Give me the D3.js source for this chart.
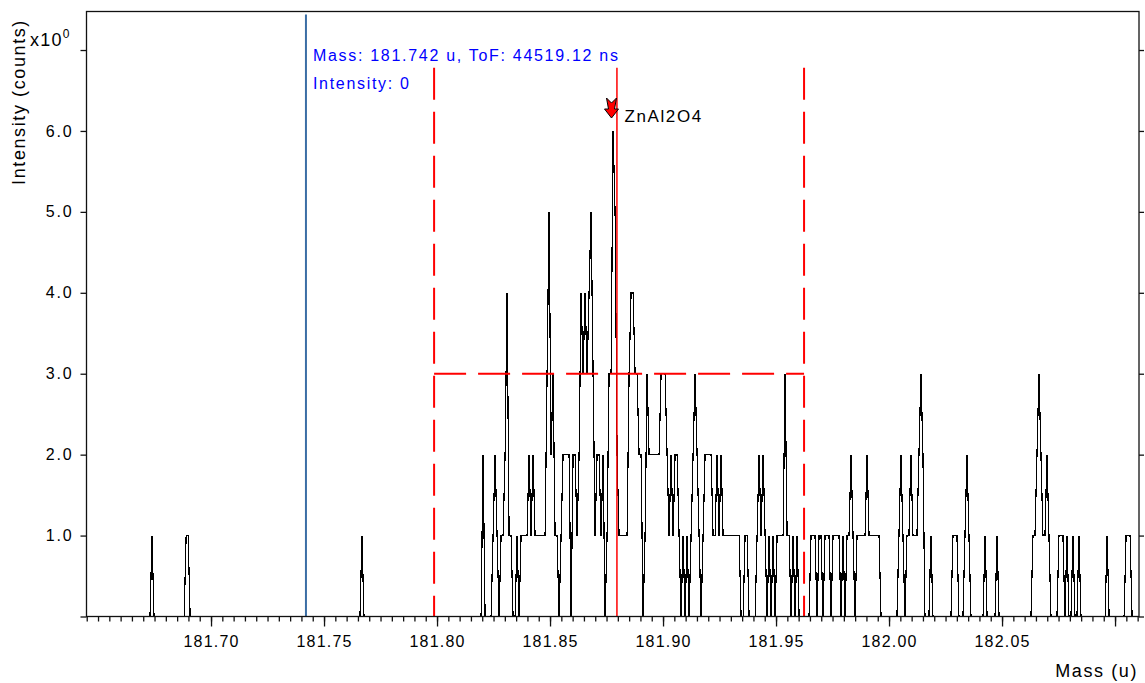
<!DOCTYPE html>
<html>
<head>
<meta charset="utf-8">
<script src="https://cdn.jsdelivr.net/npm/d3@7"></script>
<style>
body { margin: 0; background: #fff; }
svg text { font-family: "Liberation Sans", Arial, sans-serif; font-size: 16px; letter-spacing: 1.2px; }
</style>
</head>
<body>
<svg id="chart" width="1145" height="683"></svg>
<script>
// 軸の範囲
var massMin = 181.6449, massMax = 182.1106;
var countMax = 7.476;

// 目盛り
var xMajorTicks = [181.70, 181.75, 181.80, 181.85, 181.90, 181.95, 182.00, 182.05, 182.10];
var xTickLabels = ["181.70", "181.75", "181.80", "181.85", "181.90", "181.95", "182.00", "182.05", ""];
var yTicks = [0, 1, 2, 3, 4, 5, 6, 7];
var yTickLabels = ["", "1.0", "2.0", "3.0", "4.0", "5.0", "6.0", ""];

// スペクトル (区間ごとの開始質量 + カウント列, 等間隔ビン)
var binWidth = 0.000885;
var segStart = [181.6730, 181.6881, 181.7659, 181.8186, 181.9646, 182.0035,
	182.0274, 182.0416, 182.0469, 182.0628, 182.0743, 182.0805, 182.0956, 182.1040];
var segCounts = [
	[0, 1, 0],
	[0, 1, 1, 0],
	[0, 1, 0],
	[0,0,2,0,0,0,0,1,2,1, 0,1,1,2,4,1,1,0,0,1, 0,1,1,1,1,2,1,2,1,1,
	 1,1,1,1,3,5,2,3,1,1, 0,1,2,2,2,2,0,2,2,1, 2,4,3,4,3,4,5,3,1,2,
	 2,1,2,0,1,3,3,6,5,2, 1,1,1,1,1,3,4,4,3,3, 2,2,0,1,3,2,2,2,2,2,
	 2,3,3,3,2,1,2,1,2,2, 1,0,1,0,1,0,1,2,3,2, 1,0,1,2,2,2,2,1,1,2,
	 1,2,1,1,1,1,1,1,1,1, 1,0,0,1,1,0,0,0,0,1, 2,1,2,1,0,1,0,1,0,1,
	 1,1,1,3,1,1,0,1,0,1, 0],
	[0,1,1,1,0,1,1,0,1,1, 1,0,1,1,1,1,0,1,0,1, 1,2,1,0,1,1,1,1,1,2, 1,1,1,1,1,1,0],
	[0,1,2,1,0,1,1,2,1,1, 1,2,3,2,0,0,0,1,0],
	[0,1,1,1,0,0,0,1,2,1,0],
	[0,1,0],
	[0,1,0],
	[0,1,1,2,3,2,1,1,2,1,0],
	[0,1,1,1,0,1,0],
	[0,1,0,0,1,0],
	[0,1,0],
	[0,1,1,1,0]
];

// 注記
var cursorMass = 181.742;
var cursorText = ["Mass: 181.742 u, ToF: 44519.12 ns", "Intensity: 0"];
var peakCenter = 181.8796, windowLeft = 181.7987, windowRight = 181.9624;
var halfMax = 3.0, markerTop = 6.78;
var peakName = "ZnAl2O4", peakMass = 181.8772;

var plot = {left: 86.5, right: 1139, top: 11.5, bottom: 616.5};
var svg = d3.select("#chart");

var x = d3.scaleLinear().domain([massMin, massMax]).range([plot.left, plot.right]);
var y = d3.scaleLinear().domain([0, countMax]).range([plot.bottom, plot.top]);

svg.append("clipPath").attr("id", "clip").append("rect")
	.attr("x", plot.left).attr("y", plot.top)
	.attr("width", plot.right - plot.left).attr("height", plot.bottom - plot.top);

// スペクトル線
var line = d3.line()
	.x(function(d){ return x(d.m); })
	.y(function(d){ return y(d.c); });
var spectrum = svg.append("g").attr("clip-path", "url(#clip)");
segStart.forEach(function(m0, i){
	var pts = segCounts[i].map(function(c, j){ return {m: m0 + j * binWidth, c: c}; });
	spectrum.append("path")
		.datum(pts)
		.attr("fill", "none")
		.attr("stroke", "#000")
		.attr("stroke-width", 1.2)
		.attr("shape-rendering", "crispEdges")
		.attr("d", line);
});

// 赤線 (ピーク位置・積分範囲・半値)
var red = svg.append("g").attr("stroke", "#ff0000").attr("fill", "none");
[windowLeft, windowRight].forEach(function(m){
	red.append("line")
		.attr("x1", x(m)).attr("x2", x(m))
		.attr("y1", y(markerTop)).attr("y2", y(0))
		.attr("stroke-width", 2)
		.attr("stroke-dasharray", "32,12");
});
red.append("line")
	.attr("x1", x(windowLeft)).attr("x2", x(windowRight))
	.attr("y1", y(halfMax)).attr("y2", y(halfMax))
	.attr("stroke-width", 2)
	.attr("stroke-dasharray", "32,12");
red.append("line")
	.attr("x1", x(peakCenter)).attr("x2", x(peakCenter))
	.attr("y1", y(markerTop)).attr("y2", y(0))
	.attr("stroke-width", 1.5);

// カーソル線
svg.append("line")
	.attr("x1", x(cursorMass)).attr("x2", x(cursorMass))
	.attr("y1", plot.top + 3).attr("y2", plot.bottom)
	.attr("stroke", "#3b6ea5").attr("stroke-width", 2);
cursorText.forEach(function(t, i){
	svg.append("text")
		.attr("x", x(cursorMass) + 7).attr("y", 61 + i * 28)
		.attr("fill", "#0000ff")
		.style("letter-spacing", "1.7px")
		.text(t);
});

// ピークマーカー(矢印)
var ax = x(peakMass), ay = 118;
var arrow = [[0,0],[-7,-9],[-3,-9],[-5,-20],[0,-15],[5,-20],[3,-9],[7,-9]];
svg.append("polygon")
	.attr("points", arrow.map(function(p){ return (ax + p[0]) + "," + (ay + p[1]); }).join(" "))
	.attr("fill", "#ff0000").attr("stroke", "#000").attr("stroke-width", 1);
svg.append("text")
	.attr("x", ax + 13).attr("y", 122)
	.attr("fill", "#000")
	.style("font-size", "17px").style("letter-spacing", "1.6px")
	.text(peakName);

// 枠
svg.append("rect")
	.attr("x", plot.left).attr("y", plot.top)
	.attr("width", plot.right - plot.left).attr("height", plot.bottom - plot.top)
	.attr("fill", "none").attr("stroke", "#111").attr("stroke-width", 1.3);

// X軸 (補助目盛り + 主目盛り)
var minorTicks = d3.range(0, 94).map(function(i){ return Math.round((181.645 + i * 0.005) * 1000) / 1000; })
	.filter(function(d){ return d <= massMax; });
svg.append("g")
	.attr("transform", "translate(0," + plot.bottom + ")")
	.call(d3.axisBottom(x).tickValues(minorTicks).tickSize(5).tickFormat(""))
	.call(function(g){ g.select(".domain").remove(); g.selectAll("line").attr("stroke", "#111").attr("stroke-width", 1.3); });
var xAxis = svg.append("g")
	.attr("transform", "translate(0," + plot.bottom + ")")
	.call(d3.axisBottom(x).tickValues(xMajorTicks).tickSize(10).tickPadding(9)
		.tickFormat(function(d, i){ return xTickLabels[i]; }));
xAxis.select(".domain").remove();
xAxis.selectAll("line").attr("stroke", "#111").attr("stroke-width", 1.3);
xAxis.selectAll("text").attr("fill", "#000").style("font-size", "16px").attr("font-family", null);

// Y軸 (左・右)
var yAxis = svg.append("g")
	.attr("transform", "translate(" + plot.left + ",0)")
	.call(d3.axisLeft(y).tickValues(yTicks).tickSize(6).tickPadding(7)
		.tickFormat(function(d, i){ return yTickLabels[i]; }));
yAxis.select(".domain").remove();
yAxis.selectAll("line").attr("stroke", "#111").attr("stroke-width", 1.3);
yAxis.selectAll("text").attr("fill", "#000").style("font-size", "16px").style("letter-spacing", "1.8px").attr("font-family", null);

var yAxisR = svg.append("g")
	.attr("transform", "translate(" + plot.right + ",0)")
	.call(d3.axisRight(y).tickValues(yTicks).tickSize(5).tickFormat(""));
yAxisR.select(".domain").remove();
yAxisR.selectAll("line").attr("stroke", "#111").attr("stroke-width", 1.3);

// 軸タイトル
svg.append("text")
	.attr("transform", "translate(25,102) rotate(-90)")
	.attr("text-anchor", "middle")
	.style("font-size", "18px").style("letter-spacing", "1.6px")
	.text("Intensity (counts)");
svg.append("text")
	.attr("x", 1138).attr("y", 677)
	.attr("text-anchor", "end")
	.style("font-size", "18px").style("letter-spacing", "1.6px")
	.text("Mass (u)");
var exp = svg.append("text").attr("x", 30).attr("y", 46)
	.style("font-size", "18px").style("letter-spacing", "1.2px");
exp.append("tspan").text("x10");
exp.append("tspan").attr("dy", -8).style("font-size", "12px").text("0");
</script>
</body>
</html>
